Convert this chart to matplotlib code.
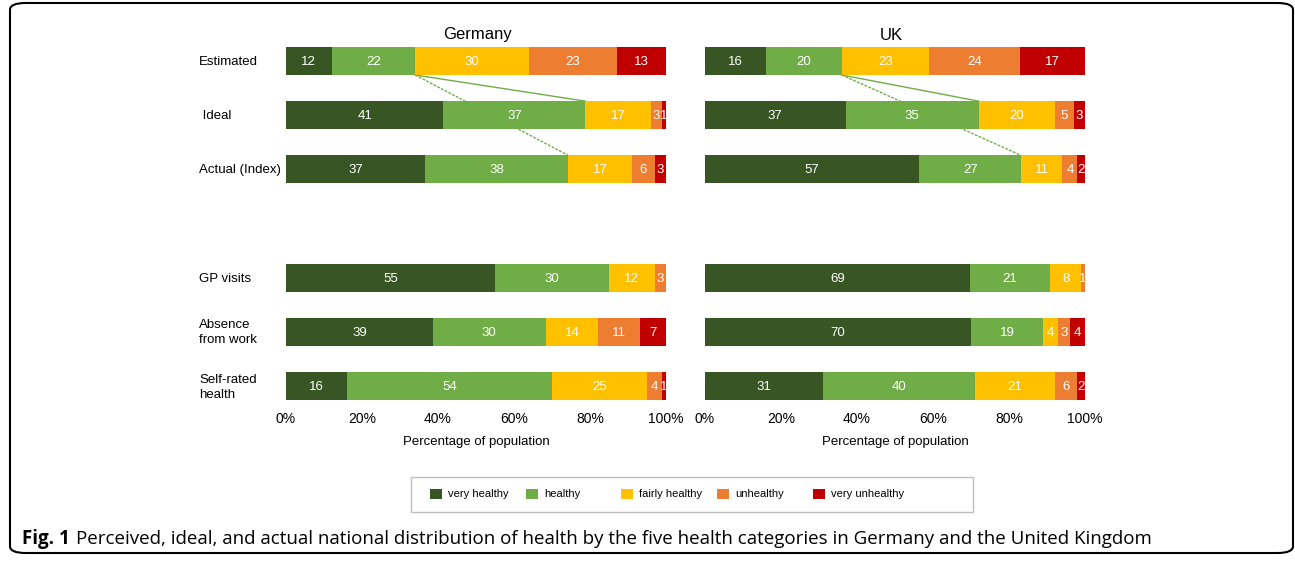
import matplotlib
matplotlib.use("Agg")
import matplotlib.pyplot as plt
from matplotlib.patches import Patch, FancyBboxPatch, Rectangle
import numpy as np

plt.rcParams['font.family'] = ['Liberation Sans', 'DejaVu Sans']

categories = ["very healthy", "healthy", "fairly healthy", "unhealthy", "very unhealthy"]
colors = ["#375623", "#70AD47", "#FFC000", "#ED7D31", "#C00000"]
row_labels = ["Estimated", " Ideal", "Actual (Index)", "GP visits", "Absence\nfrom work", "Self-rated\nhealth"]
row_pos = [0, 1, 2, 4, 5, 6]

germany = [
    [12, 22, 30, 23, 13],
    [41, 37, 17, 3, 1],
    [37, 38, 17, 6, 3],
    [55, 30, 12, 3, 0],
    [39, 30, 14, 11, 7],
    [16, 54, 25, 4, 1],
]
uk = [
    [16, 20, 23, 24, 17],
    [37, 35, 20, 5, 3],
    [57, 27, 11, 4, 2],
    [69, 21, 8, 1, 0],
    [70, 19, 4, 3, 4],
    [31, 40, 21, 6, 2],
]
countries = ["Germany", "UK"]
xticks = [0, 20, 40, 60, 80, 100]
xtick_labels = ["0%", "20%", "40%", "60%", "80%", "100%"]

W, H = 1295, 563
fig = plt.figure(figsize=(W / 100, H / 100), dpi=100)

def px(x0, y0, x1, y1):
    return [x0 / W, 1 - y1 / H, (x1 - x0) / W, (y1 - y0) / H]

bar_h = 28 / 54.17
ax_rects = [px(286, 40, 666, 405), px(705, 40, 1085, 405)]
title_x = [478, 891]

for ci, (data, rect) in enumerate(zip([germany, uk], ax_rects)):
    ax = fig.add_axes(rect)
    arr = np.array(data, dtype=float)
    norm = arr / arr.sum(axis=1, keepdims=True) * 100
    left = np.zeros(len(row_pos))
    for k in range(len(categories)):
        bars = ax.barh(row_pos, norm[:, k], left=left, height=bar_h,
                       color=colors[k], edgecolor='none', zorder=3)
        for i, b in enumerate(bars):
            v = arr[i, k]
            if v > 0:
                ax.text(left[i] + norm[i, k] / 2, row_pos[i] + 0.02, f"{int(v)}",
                        ha='center', va='center', color='white', fontsize=9.5, zorder=4)
        left += norm[:, k]
    # connection lines (healthy edges)
    cum = np.cumsum(norm, axis=1)[:, 1]
    ax.plot([cum[0], cum[1]], [row_pos[0] + bar_h / 2, row_pos[1] - bar_h / 2],
            color=colors[1], lw=1.0, zorder=2)
    ax.plot([cum[0], cum[2]], [row_pos[0] + bar_h / 2, row_pos[2] - bar_h / 2],
            color=colors[1], lw=1.0, ls=(0, (2, 1)), zorder=2)
    ax.set_xlim(0, 100)
    ax.set_ylim(6 + 19 / 54.17, -21 / 54.17)
    ax.set_xticks(xticks)
    ax.set_xticklabels(xtick_labels, fontsize=10)
    ax.tick_params(axis='x', length=0, pad=5)
    for lbl in ax.get_xticklabels():
        lbl.set_x(lbl.get_position()[0])
    ax.set_yticks([])
    for s in ax.spines.values():
        s.set_visible(False)
    ax.set_xlabel("Percentage of population", fontsize=9.5, labelpad=7)
    ax.patch.set_alpha(0)
    fig.text(title_x[ci] / W, 1 - 35 / H, countries[ci], ha='center', va='center', fontsize=12)

    if ci == 0:
        for lab, rp in zip(row_labels, row_pos):
            ax.text(-87 / 3.8, rp + 0.02, lab, ha='left', va='center', fontsize=9.5,
                    linespacing=1.35, transform=ax.transData, clip_on=False)

# legend: one entry per fixed-width column, inside a common frame
frame = Rectangle((411 / W, 1 - 512 / H), 562 / W, 35 / H, transform=fig.transFigure,
                  fill=False, edgecolor='#BFBFBF', lw=1.0)
fig.patches.append(frame)
handle_x = [430, 526, 621, 717, 813]
for c, lab, hx in zip(colors, categories, handle_x):
    fig.legend([Patch(facecolor=c, edgecolor='none')], [lab], loc='center left',
               bbox_to_anchor=(hx / W, 1 - 494 / H), frameon=False, fontsize=8,
               borderpad=0, borderaxespad=0, handlelength=1.05, handleheight=1.05,
               handletextpad=0.6)

# outer rounded border
border = FancyBboxPatch((10 / W, 10 / H), (1283 / W), (550 / H),
                        boxstyle="round,pad=0,rounding_size=0.012",
                        transform=fig.transFigure, fill=False, edgecolor='black', lw=1.5)
fig.patches.append(border)

# caption
cap_font = ['Open Sans', 'DejaVu Sans']
t1 = fig.text(22 / W, 1 - 539 / H, "Fig. 1", fontsize=13.5, fontweight='bold',
              family=cap_font, va='center', ha='left')
fig.canvas.draw()
bb = t1.get_window_extent()
fig.text((bb.x1 + 6) / W, 1 - 539 / H,
         "Perceived, ideal, and actual national distribution of health by the five health categories in Germany and the United Kingdom",
         fontsize=13.5, family=cap_font, va='center', ha='left')

fig.savefig("out.png", dpi=100)
